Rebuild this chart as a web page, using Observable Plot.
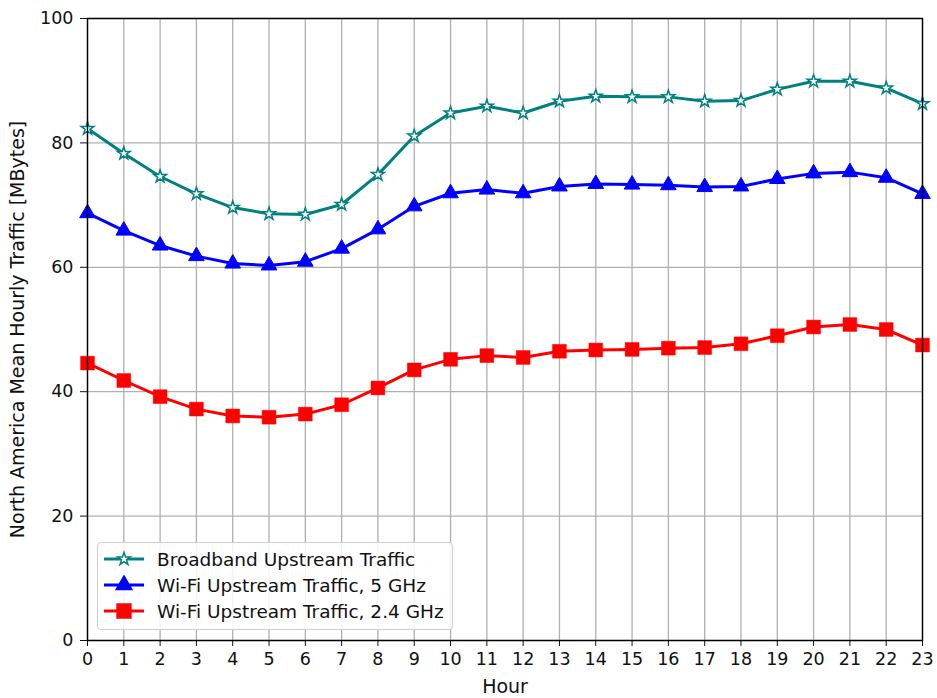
<!DOCTYPE html>
<html>
<head>
<meta charset="utf-8">
<script src="https://cdn.jsdelivr.net/npm/d3@7"></script>
<script src="https://cdn.jsdelivr.net/npm/@observablehq/plot@0.6"></script>
<style>
  html, body { margin: 0; padding: 0; background: #fff; }
  #wrap { position: relative; width: 937px; height: 698px; font-family: "DejaVu Sans", sans-serif; }
  #legend { position: absolute; left: 97px; top: 542px; width: 356px; height: 88px; box-sizing: border-box;
    border: 1px solid #d0d0d0; border-radius: 4px; background: rgba(255,255,255,0.85); padding-top: 3px; }
  .row { display: flex; align-items: center; height: 26px; font-size: 18.5px; color: #111; white-space: nowrap; }
  .row svg { margin-left: 5px; margin-right: 12px; flex: none; }
</style>
</head>
<body>
<div id="wrap"><div id="chart"></div><div id="legend"></div></div>
<script>
const hours = d3.range(0, 24);
const broadband = [82.3, 78.3, 74.6, 71.8, 69.6, 68.6, 68.5, 70.1, 74.9, 81.1, 84.8, 85.9, 84.8, 86.7, 87.5, 87.4, 87.4, 86.7, 86.8, 88.6, 89.9, 89.9, 88.8, 86.3];
const wifi5 = [68.7, 65.9, 63.5, 61.8, 60.6, 60.3, 60.9, 63.0, 66.1, 69.8, 71.9, 72.5, 71.9, 73.0, 73.4, 73.3, 73.2, 72.9, 73.0, 74.2, 75.1, 75.3, 74.4, 71.8];
const wifi24 = [44.6, 41.8, 39.2, 37.2, 36.1, 35.9, 36.4, 37.9, 40.6, 43.5, 45.2, 45.8, 45.5, 46.5, 46.7, 46.8, 47.0, 47.1, 47.7, 49.0, 50.4, 50.8, 50.0, 47.5];
const seriesNames = ["Broadband Upstream Traffic", "Wi-Fi Upstream Traffic, 5 GHz", "Wi-Fi Upstream Traffic, 2.4 GHz"];
const colors = ["#008080", "#0000ff", "#ff0000"];
const symbols = ["star", "triangle", "square"];
const radii = [4, 5.8, 7.8];
const xTicks = d3.range(0, 24);
const yTicks = [0, 20, 40, 60, 80, 100];

const table = [];
[broadband, wifi5, wifi24].forEach((vals, s) => vals.forEach((v, i) => table.push({hour: hours[i], value: v, series: seriesNames[s]})));
const bySeries = name => table.filter(d => d.series === name);

const chart = Plot.plot({
  width: 937, height: 698,
  marginLeft: 87, marginRight: 15, marginTop: 18, marginBottom: 58,
  style: {fontFamily: "DejaVu Sans, sans-serif", fontSize: "17.5px", color: "#111", background: "#fff"},
  x: {domain: [0, 23]},
  y: {domain: [0, 100]},
  marks: [
    Plot.gridX(xTicks, {stroke: "#b0b0b0", strokeOpacity: 1, strokeWidth: 1.3}),
    Plot.gridY(yTicks, {stroke: "#b0b0b0", strokeOpacity: 1, strokeWidth: 1.3}),
    Plot.axisX({ticks: xTicks, tickSize: 6, tickPadding: 6, fontSize: 17.5, label: null}),
    Plot.axisX({ticks: [], tickSize: 0, label: "Hour", labelAnchor: "center", labelArrow: "none", labelOffset: 52, fontSize: 19}),
    Plot.axisY({ticks: yTicks, tickSize: 7, tickPadding: 7, fontSize: 17.5, label: null}),
    Plot.axisY({ticks: [], tickSize: 0, label: "North America Mean Hourly Traffic [MBytes]", labelAnchor: "center", labelArrow: "none", labelOffset: 77, fontSize: 19}),
    Plot.lineY(bySeries(seriesNames[0]), {x: "hour", y: "value", stroke: colors[0], strokeWidth: 3}),
    Plot.dot(bySeries(seriesNames[0]), {x: "hour", y: "value", symbol: "star", r: radii[0], fill: "white", stroke: colors[0], strokeWidth: 1.5}),
    Plot.lineY(bySeries(seriesNames[1]), {x: "hour", y: "value", stroke: colors[1], strokeWidth: 3}),
    Plot.dot(bySeries(seriesNames[1]), {x: "hour", y: "value", symbol: "triangle", r: radii[1], fill: colors[1], stroke: colors[1], strokeWidth: 1}),
    Plot.lineY(bySeries(seriesNames[2]), {x: "hour", y: "value", stroke: colors[2], strokeWidth: 3}),
    Plot.dot(bySeries(seriesNames[2]), {x: "hour", y: "value", symbol: "square", r: radii[2], fill: colors[2], stroke: colors[2], strokeWidth: 0.5}),
    Plot.frame({stroke: "black", strokeWidth: 1.4})
  ]
});
document.getElementById("chart").appendChild(chart);

// Legend
const legend = document.getElementById("legend");
const symTypes = {star: d3.symbolStar, triangle: d3.symbolTriangle, square: d3.symbolSquare};
seriesNames.forEach((name, i) => {
  const row = document.createElement("div");
  row.className = "row";
  const sym = d3.symbol(symTypes[symbols[i]], Math.PI * radii[i] * radii[i])();
  const fill = symbols[i] === "star" ? "white" : colors[i];
  row.innerHTML = `<svg width="42" height="20"><line x1="1" x2="41" y1="10" y2="10" stroke="${colors[i]}" stroke-width="3"/>` +
    `<path d="${sym}" transform="translate(21,10)" fill="${fill}" stroke="${colors[i]}" stroke-width="1.5"/></svg><span>${name}</span>`;
  legend.appendChild(row);
});
</script>
</body>
</html>
